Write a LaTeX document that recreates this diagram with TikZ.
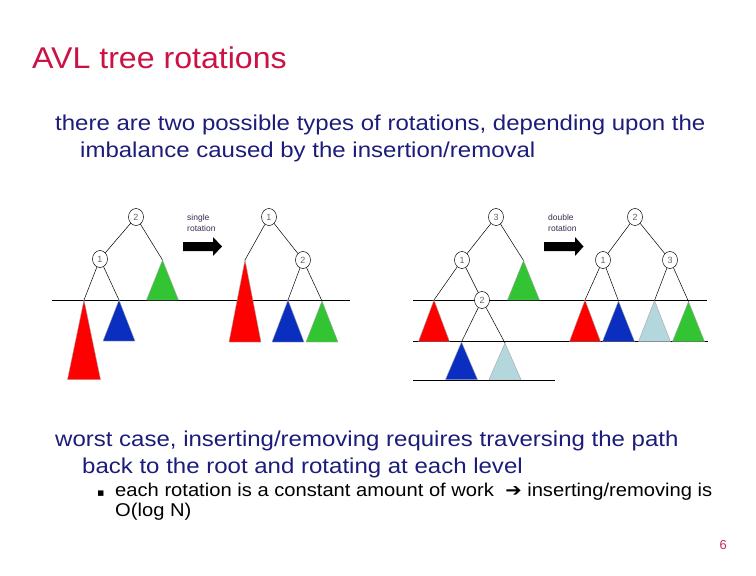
\documentclass[tikz,border=0pt]{standalone}
\usepackage{fontspec}
\usepackage{graphicx}
\setmainfont{Liberation Sans}
\newfontfamily\symfont{DejaVu Sans}
\usetikzlibrary{shapes.geometric}
\definecolor{titlered}{HTML}{CC1144}
\definecolor{navy}{HTML}{1C1C7A}
\definecolor{pagered}{HTML}{C03050}
\definecolor{tred}{HTML}{FF0000}
\definecolor{tblue}{HTML}{0A2FC0}
\definecolor{tgreen}{HTML}{33C433}
\definecolor{tlblue}{HTML}{B3D7DC}
\definecolor{lbltext}{HTML}{3A2A50}
\tikzset{
  tn/.style={ellipse,draw=black,line width=0.5pt,fill=white,inner sep=0pt,minimum width=15pt,minimum height=17pt,font=\fontsize{9}{9}\selectfont,text=black!60},
  edge/.style={draw=black,line width=0.5pt},
  level/.style={draw=black,line width=1pt},
  tri/.style={draw=gray!70,line width=0.4pt},
  body/.style={anchor=base west,inner sep=0pt,text=navy,font=\fontsize{21.5}{21.5}\selectfont},
  sub/.style={anchor=base west,inner sep=0pt,text=black,font=\fontsize{18.5}{18.5}\selectfont},
  lbl/.style={anchor=base west,inner sep=0pt,text=lbltext,font=\fontsize{8.5}{8.5}\selectfont},
  blockarrow/.style={fill=black}
}
\newcommand{\tria}[4]{% apex name, half width, height, color
  \fill[#4,tri] (#1) -- ++(-#2,#3) -- ++(2*#2,0) -- cycle;}
\newcommand{\bodyx}[1]{\scalebox{1.117}[1]{#1}}
\begin{document}
\begin{tikzpicture}[x=1pt,y=-1pt]
\useasboundingbox (0,0) rectangle (756,576);
% text
\node[anchor=base west,inner sep=0pt,text=titlered,font=\fontsize{30}{30}\selectfont] (title) at (32,68) {\scalebox{1.07}[1]{AVL tree rotations}};
\node[body] (b1) at (55,130) {\bodyx{there are two possible types of rotations, depending upon the}};
\node[body] (b2) at (80,157) {\bodyx{imbalance caused by the insertion/removal}};
\node[body] (b3) at (55,446) {\bodyx{worst case, inserting/removing requires traversing the path}};
\node[body] (b4) at (82,473) {\bodyx{back to the root and rotating at each level}};
\node[sub] (bul) at (97,496.5) {\fontsize{11}{11}\selectfont\symfont ▪};
\node[sub] (s1) at (115,496.5) {\scalebox{1.09}[1]{each rotation is a constant amount of work \ {\symfont\bfseries\fontsize{18}{18}\selectfont ➔}\ inserting/removing is}};
\node[sub] (s2) at (115,516.5) {\scalebox{1.09}[1]{O(log N)}};
\node[anchor=base east,inner sep=0pt,text=pagered,font=\fontsize{13}{13}\selectfont] (pg) at (727,549) {6};

% ---------- single rotation ----------
\draw[level] (52,300) -- (350,300);
% left tree
\node[tn] (a2) at (136,217) {2};
\node[tn] (a1) at (100,259) {1};
\coordinate (aG) at (162.5,260);
\coordinate (aR) at (84,300);
\coordinate (aB) at (119,300);
\tria{aG}{16}{40}{tgreen}
\tria{aR}{16.5}{79.5}{tred}
\tria{aB}{16}{41}{tblue}
\draw[edge] (a2) -- (a1);
\draw[edge] (a2) -- (aG);
\draw[edge] (a1) -- (aR);
\draw[edge] (a1) -- (aB);
% arrow
\fill[blockarrow] (183,242) -- (213,242) -- (213,237) -- (222,246.5) -- (213,256) -- (213,251) -- (183,251) -- cycle;
\node[lbl] (l1) at (187,220) {single};
\node[lbl] (l2) at (187,231) {rotation};
% right tree
\node[tn] (c1) at (269,217) {1};
\node[tn] (c2) at (303,260) {2};
\coordinate (cR) at (245,260);
\coordinate (cB) at (288,300);
\coordinate (cG) at (322,301);
\tria{cR}{16}{82}{tred}
\tria{cB}{16}{42}{tblue}
\tria{cG}{16}{41}{tgreen}
\draw[edge] (c1) -- (cR);
\draw[edge] (c1) -- (c2);
\draw[edge] (c2) -- (cB);
\draw[edge] (c2) -- (cG);

% ---------- double rotation ----------
\draw[level] (413,300) -- (707,300);
\draw[level] (413,341.5) -- (708,341.5);
\draw[level] (413,380) -- (555,380);
% left tree
\node[tn] (d3) at (496,217) {3};
\node[tn] (d1) at (462,260) {1};
\coordinate (dG) at (523.5,260.5);
\coordinate (dR) at (434,300);
\coordinate (dB) at (461.5,342);
\coordinate (dL) at (505,343);
\tria{dG}{16}{39.5}{tgreen}
\tria{dR}{15.5}{41.5}{tred}
\tria{dB}{16}{37.5}{tblue}
\tria{dL}{16}{36.5}{tlblue}
\node[tn] (d2) at (482,300) {2};
\draw[edge] (d3) -- (d1);
\draw[edge] (d3) -- (dG);
\draw[edge] (d1) -- (dR);
\draw[edge] (d1) -- (d2);
\draw[edge] (d2) -- (dB);
\draw[edge] (d2) -- (dL);
% arrow
\fill[blockarrow] (544,242) -- (575,242) -- (575,237) -- (583.5,246.5) -- (575,256) -- (575,251) -- (544,251) -- cycle;
\node[lbl] (l3) at (548,220) {double};
\node[lbl] (l4) at (548,231) {rotation};
% right tree
\node[tn] (e2) at (635,217) {2};
\node[tn] (e1) at (603,260) {1};
\node[tn] (e3) at (670,260) {3};
\coordinate (eR) at (585,300);
\coordinate (eB) at (618.5,301);
\coordinate (eL) at (654.5,300.5);
\coordinate (eG) at (688.5,301.5);
\tria{eR}{15.5}{41.5}{tred}
\tria{eB}{16}{40.5}{tblue}
\tria{eL}{16}{41}{tlblue}
\tria{eG}{16}{40}{tgreen}
\draw[edge] (e2) -- (e1);
\draw[edge] (e2) -- (e3);
\draw[edge] (e1) -- (eR);
\draw[edge] (e1) -- (eB);
\draw[edge] (e3) -- (eL);
\draw[edge] (e3) -- (eG);
\end{tikzpicture}
\end{document}
